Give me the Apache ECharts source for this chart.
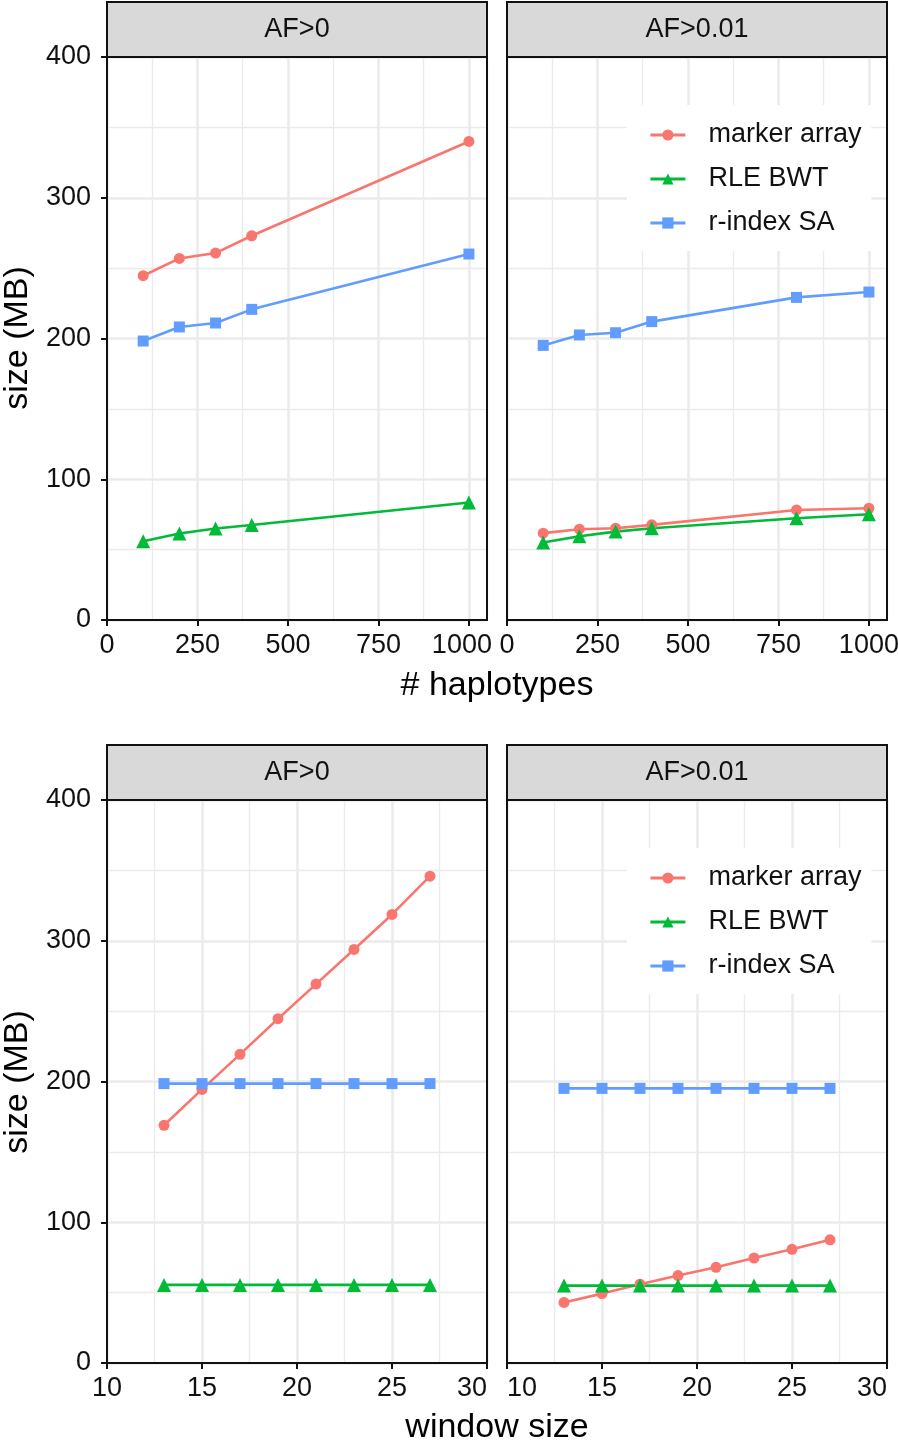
<!DOCTYPE html>
<html>
<head>
<meta charset="utf-8">
<script src="https://cdn.jsdelivr.net/npm/echarts@6/dist/echarts.min.js"></script>
<style>html,body{margin:0;padding:0;background:#fff;overflow:hidden;}#c{width:898px;height:1441px;}</style>
</head>
<body>
<div id="c"></div>
<script>
// ---- data ----
const seriesNames = ['marker array', 'RLE BWT', 'r-index SA'];
const panelTitles = ['AF>0', 'AF>0.01'];

const hapAF0 = [100, 200, 300, 400, 1000];
const markerAF0 = [244.6, 256.9, 260.7, 273.0, 340.0];
const rleAF0 = [56.0, 61.5, 65.0, 67.5, 83.5];
const rindexAF0 = [198.2, 208.2, 211.0, 220.7, 260.0];

const hapAF001 = [100, 200, 300, 400, 800, 1000];
const markerAF001 = [61.7, 64.5, 65.2, 67.6, 78.2, 79.4];
const rleAF001 = [55.0, 59.5, 62.8, 65.2, 72.3, 75.1];
const rindexAF001 = [195.1, 202.5, 204.1, 212.0, 229.2, 233.0];

const windowSizes = [13, 15, 17, 19, 21, 23, 25, 27];
const markerWinAF0 = [168.9, 194.4, 219.3, 244.6, 269.2, 293.8, 318.7, 345.9];
const rleWinAF0 = [55.5, 55.5, 55.5, 55.5, 55.5, 55.5, 55.5, 55.5];
const rindexWinAF0 = [198.5, 198.5, 198.5, 198.5, 198.5, 198.5, 198.5, 198.5];
const markerWinAF001 = [43.0, 49.3, 56.0, 62.1, 68.0, 74.6, 80.8, 87.5];
const rleWinAF001 = [55.0, 55.0, 55.0, 55.0, 55.0, 55.0, 55.0, 55.0];
const rindexWinAF001 = [195.1, 195.1, 195.1, 195.1, 195.1, 195.1, 195.1, 195.1];

const hapTicks = [0, 250, 500, 750, 1000];
const winTicks = [10, 15, 20, 25, 30];
const sizeTicks = [0, 100, 200, 300, 400];

const xTitleTop = '# haplotypes';
const xTitleBottom = 'window size';
const yTitle = 'size (MB)';

// ---- styling ----
const FONT = '"Liberation Sans", Arial, Helvetica, sans-serif';
const colors = ['#F8766D', '#00BA38', '#619CFF'];
const symbols = ['circle', 'triangle', 'rect'];
const symbolSizes = [11, 14, 11];
const TEXT = '#111';
const GRID = '#ebebeb';

const PW = 380, PH = 563;
const panels = [
  { left: 107, top: 57 }, { left: 507, top: 57 },
  { left: 107, top: 800 }, { left: 507, top: 800 }
];

const grids = panels.map(p => ({
  left: p.left, top: p.top, width: PW, height: PH,
  show: false, containLabel: false, outerBoundsMode: 'none'
}));

const fmt = v => String(v);
const lastHap = hapTicks[hapTicks.length - 1];

const xAxes = [];
const yAxes = [];
panels.forEach((p, i) => {
  const top = i < 2;
  const ticks = top ? hapTicks : winTicks;
  const label = { show: true, customValues: ticks, formatter: fmt, fontSize: 27, color: TEXT, fontFamily: FONT, margin: 12 };
  if (i === 0) {
    label.formatter = v => (v === lastHap ? '{s|' + v + '}' : String(v));
    label.rich = { s: { fontSize: 27, color: TEXT, fontFamily: FONT, padding: [0, 14, 0, 0] } };
  }
  if (i === 2) { label.alignMaxLabel = 'right'; }
  if (i === 3) { label.alignMinLabel = 'left'; label.alignMaxLabel = 'right'; }
  xAxes.push({
    type: 'value', gridIndex: i,
    min: top ? 0 : 10, max: top ? 1050 : 30, interval: top ? 250 : 5,
    axisLine: { show: false },
    axisTick: { show: true, length: 6, lineStyle: { color: '#111', width: 2 }, customValues: ticks },
    axisLabel: label,
    splitLine: { show: true, lineStyle: { color: GRID, width: 2.5 } },
    minorTick: { show: false },
    minorSplitLine: { show: false },
    z: 2
  });
  yAxes.push({
    type: 'value', gridIndex: i, min: 0, max: 400, interval: 100,
    axisLine: { show: false },
    axisTick: { show: i % 2 === 0, length: 6, lineStyle: { color: '#111', width: 2 }, customValues: sizeTicks },
    axisLabel: { show: i % 2 === 0, customValues: sizeTicks, formatter: fmt, fontSize: 27, color: TEXT, fontFamily: FONT, margin: 16 },
    splitLine: { show: true, lineStyle: { color: GRID, width: 2.5 } },
    minorTick: { show: false, splitNumber: 2 },
    minorSplitLine: { show: true, lineStyle: { color: GRID, width: 1.3 } }
  });
});
panels.forEach((p, i) => {
  const top = i < 2;
  xAxes.push({
    type: 'value', gridIndex: i,
    min: top ? 0 : 10, max: top ? 1050 : 30, interval: top ? 125 : 2.5,
    axisLine: { show: false }, axisTick: { show: false }, axisLabel: { show: false },
    splitLine: { show: true, lineStyle: { color: GRID, width: 1.3 } },
    z: 1
  });
});

function pairs(xs, ys) { return xs.map((x, k) => [x, ys[k]]); }

const panelData = [
  [pairs(hapAF0, markerAF0), pairs(hapAF0, rleAF0), pairs(hapAF0, rindexAF0)],
  [pairs(hapAF001, markerAF001), pairs(hapAF001, rleAF001), pairs(hapAF001, rindexAF001)],
  [pairs(windowSizes, markerWinAF0), pairs(windowSizes, rleWinAF0), pairs(windowSizes, rindexWinAF0)],
  [pairs(windowSizes, markerWinAF001), pairs(windowSizes, rleWinAF001), pairs(windowSizes, rindexWinAF001)]
];

const series = [];
panelData.forEach((sets, i) => {
  sets.forEach((d, s) => {
    series.push({
      type: 'line', name: seriesNames[s], xAxisIndex: i, yAxisIndex: i, data: d,
      symbol: symbols[s], symbolSize: symbolSizes[s], showSymbol: true,
      lineStyle: { color: colors[s], width: 2.6 },
      itemStyle: { color: colors[s] },
      emphasis: { disabled: true }, silent: true, z: 3
    });
  });
});

function legendAt(top) {
  return {
    orient: 'vertical', left: 627, top: top, data: seriesNames,
    backgroundColor: '#ffffff', padding: [15, 10, 13, 22],
    itemWidth: 35, itemHeight: 14, itemGap: 14, selectedMode: false,
    lineStyle: { width: 2.8 },
    textStyle: { fontSize: 27, color: TEXT, fontFamily: FONT, lineHeight: 30, padding: [0, 0, 0, 18] }
  };
}

const graphic = [];
panels.forEach((p, i) => {
  graphic.push({
    type: 'rect', shape: { x: p.left, y: p.top - 55, width: PW, height: 55 },
    style: { fill: '#d9d9d9', stroke: '#111', lineWidth: 2 }, z: 10
  });
  graphic.push({
    type: 'rect', shape: { x: p.left, y: p.top, width: PW, height: PH },
    style: { fill: 'none', stroke: '#111', lineWidth: 2 }, z: 10
  });
  graphic.push({
    type: 'text', x: p.left + PW / 2, y: p.top - 27,
    style: { text: panelTitles[i % 2], fontSize: 27, fontFamily: FONT, fill: TEXT, align: 'center', verticalAlign: 'middle' }, z: 11
  });
});
graphic.push({ type: 'text', x: 497, y: 686, style: { text: xTitleTop, fontSize: 34, fontFamily: FONT, fill: '#000', align: 'center', verticalAlign: 'middle' } });
graphic.push({ type: 'text', x: 497, y: 1428, style: { text: xTitleBottom, fontSize: 34, fontFamily: FONT, fill: '#000', align: 'center', verticalAlign: 'middle' } });
graphic.push({ type: 'text', x: 18, y: 338, rotation: Math.PI / 2, style: { text: yTitle, fontSize: 34, fontFamily: FONT, fill: '#000', align: 'center', verticalAlign: 'middle' } });
graphic.push({ type: 'text', x: 18, y: 1082, rotation: Math.PI / 2, style: { text: yTitle, fontSize: 34, fontFamily: FONT, fill: '#000', align: 'center', verticalAlign: 'middle' } });

const chart = echarts.init(document.getElementById('c'), null, { renderer: 'canvas', width: 898, height: 1441 });
chart.setOption({
  animation: false,
  backgroundColor: '#ffffff',
  textStyle: { fontFamily: FONT },
  grid: grids,
  xAxis: xAxes,
  yAxis: yAxes,
  legend: [legendAt(105), legendAt(848)],
  series: series,
  graphic: graphic
});
</script>
</body>
</html>
